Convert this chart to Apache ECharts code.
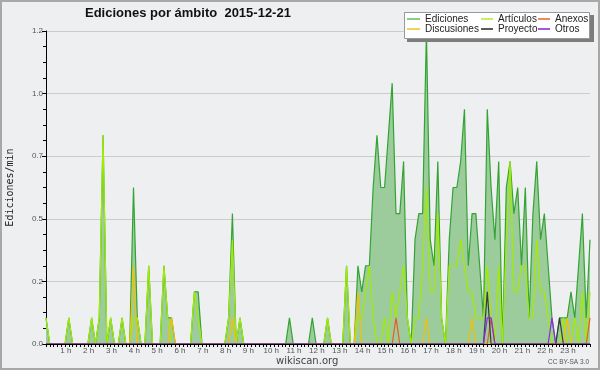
<!DOCTYPE html>
<html><head><meta charset="utf-8">
<script src="https://cdn.jsdelivr.net/npm/echarts@6/dist/echarts.min.js"></script>
<style>html,body{margin:0;padding:0;background:#eeeff1}#c{width:600px;height:370px}</style>
</head><body><div id="c"></div>
<script>
// tick labels for each hour (0 h is not printed)
const hourLabels = ['', '1 h', '2 h', '3 h', '4 h', '5 h', '6 h', '7 h', '8 h', '9 h', '10 h', '11 h',
  '12 h', '13 h', '14 h', '15 h', '16 h', '17 h', '18 h', '19 h', '20 h', '21 h', '22 h', '23 h'];

// edits per minute, one value per 10-minute slot (6 per hour row)
const ediciones = [
  0.1,0,0,0,0,0,
  0.1,0,0,0,0,0,
  0.1,0,0.1,0.8,0,0.1,
  0,0,0.1,0,0,0.6,
  0.1,0,0,0.3,0,0,
  0,0.3,0.1,0.1,0,0,
  0,0,0,0.2,0.2,0,
  0,0,0,0,0,0,
  0.1,0.5,0,0.1,0,0,
  0,0,0,0,0,0,
  0,0,0,0,0.1,0,
  0,0,0,0,0.1,0,
  0,0,0.1,0,0,0,
  0,0.3,0,0,0.3,0.2,
  0.3,0.3,0.6,0.8,0.6,0.6,
  0.8,1.0,0.5,0.5,0.7,0.1,
  0,0.4,0.5,0.5,1.2,0.4,
  0.3,0.7,0.1,0,0.4,0.6,
  0.6,0.7,0.9,0.3,0.5,0.5,
  0.3,0.1,0.9,0.6,0.4,0.7,
  0,0.6,0.7,0.5,0.6,0.3,
  0.6,0.1,0.5,0.7,0.4,0.5,
  0.3,0.1,0,0.1,0.1,0.1,
  0.2,0.1,0.3,0.5,0.1,0.4
];
const articulos = [
  0.1,0,0,0,0,0,
  0.1,0,0,0,0,0,
  0.1,0,0.1,0.8,0,0.1,
  0,0,0.1,0,0,0.1,
  0.1,0,0,0.3,0,0,
  0,0.3,0.1,0,0,0,
  0,0,0,0.2,0.1,0,
  0,0,0,0,0,0,
  0.1,0.4,0,0.1,0,0,
  0,0,0,0,0,0,
  0,0,0,0,0,0,
  0,0,0,0,0,0,
  0,0,0.1,0,0,0,
  0,0.3,0,0,0.1,0.1,
  0.2,0.3,0.1,0,0,0.1,
  0,0.2,0.1,0.2,0.3,0.1,
  0,0.1,0.1,0.3,0.6,0.2,
  0.2,0.5,0.1,0,0.3,0.3,
  0.3,0.4,0.3,0.2,0.2,0.1,
  0.1,0.1,0.3,0.1,0,0.3,
  0,0.4,0.7,0.2,0.2,0.3,
  0.3,0.1,0.1,0.4,0.2,0.2,
  0.1,0,0,0,0.1,0,
  0,0.1,0,0.2,0,0.2
];
const anexos = [
  0,0,0,0,0,0, 0,0,0,0,0,0, 0,0,0,0,0,0, 0,0,0,0,0,0,
  0,0,0,0,0,0, 0,0,0,0,0,0, 0,0,0,0,0,0, 0,0,0,0,0,0,
  0,0,0,0,0,0, 0,0,0,0,0,0, 0,0,0,0,0,0, 0,0,0,0,0,0,
  0,0,0,0,0,0, 0,0,0,0,0,0, 0,0,0,0,0,0, 0,0,0.1,0,0,0,
  0,0,0,0,0,0, 0,0,0,0,0,0, 0,0,0,0,0,0, 0,0,0,0.1,0,0,
  0,0,0,0,0,0, 0,0,0,0,0,0, 0,0,0,0,0,0, 0,0,0,0,0,0.1
];
const discusiones = [
  0,0,0,0,0,0, 0,0,0,0,0,0, 0,0,0,0,0,0, 0,0,0,0,0,0.3,
  0,0,0,0,0,0, 0,0,0,0.1,0,0, 0,0,0,0,0,0, 0,0,0,0,0,0,
  0,0.1,0,0,0,0, 0,0,0,0,0,0, 0,0,0,0,0,0, 0,0,0,0,0,0,
  0,0,0,0,0,0, 0,0,0,0,0.2,0, 0,0,0,0,0,0, 0,0,0,0,0,0,
  0,0,0,0,0.1,0, 0,0,0,0,0,0, 0,0,0,0,0.1,0, 0,0,0,0,0,0,
  0,0,0,0,0,0, 0,0,0,0,0,0, 0,0,0,0,0,0.1, 0,0,0,0,0,0
];
const proyecto = [
  0,0,0,0,0,0, 0,0,0,0,0,0, 0,0,0,0,0,0, 0,0,0,0,0,0,
  0,0,0,0,0,0, 0,0,0,0,0,0, 0,0,0,0,0,0, 0,0,0,0,0,0,
  0,0,0,0,0,0, 0,0,0,0,0,0, 0,0,0,0,0,0, 0,0,0,0,0,0,
  0,0,0,0,0,0, 0,0,0,0,0,0, 0,0,0,0,0,0, 0,0,0,0,0,0,
  0,0,0,0,0,0, 0,0,0,0,0,0, 0,0,0,0,0,0, 0,0,0.2,0,0,0,
  0,0,0,0,0,0, 0,0,0,0,0,0, 0,0,0,0.1,0,0, 0,0,0,0,0,0
];
const otros = [
  0,0,0,0,0,0, 0,0,0,0,0,0, 0,0,0,0,0,0, 0,0,0,0,0,0,
  0,0,0,0,0,0, 0,0,0,0,0,0, 0,0,0,0,0,0, 0,0,0,0,0,0,
  0,0,0,0,0,0, 0,0,0,0,0,0, 0,0,0,0,0,0, 0,0,0,0,0,0,
  0,0,0,0,0,0, 0,0,0,0,0,0, 0,0,0,0,0,0, 0,0,0,0,0,0,
  0,0,0,0,0,0, 0,0,0,0,0,0, 0,0,0,0,0,0, 0,0,0.1,0.1,0,0,
  0,0,0,0,0,0, 0,0,0,0,0,0, 0,0.1,0,0,0,0, 0,0,0,0,0,0
];

const times = [];
for (let h = 0; h < 24; h++) for (let m = 0; m < 60; m += 10)
  times.push((h < 10 ? '0' : '') + h + ':' + (m < 10 ? '0' : '') + m);

const chart = echarts.init(document.getElementById('c'), null, {renderer: 'canvas'});
const legendText = {fontFamily: 'Liberation Sans', fontSize: 10, color: '#222'};
function leg(name, color, left, top, w) {
  return {data: [{name: name, itemStyle: {color: color}}], left: left, top: top, icon: 'rect',
    itemWidth: w, itemHeight: 2, padding: 0, selectedMode: false, textStyle: legendText, z: 10};
}
function line(name, data, lineColor, legColor, z) {
  return {name: name, type: 'line', data: data, symbol: 'none', z: z,
    lineStyle: {color: lineColor, width: 1.2}, itemStyle: {color: legColor}};
}
const edSeries = line('Ediciones', ediciones, '#33a333', '#86cf86', 2);
edSeries.areaStyle = {color: '#9ccb9c', opacity: 1};

chart.setOption({
  animation: false,
  backgroundColor: '#eeeff1',
  title: {text: 'Ediciones por ámbito  2015-12-21', left: 85, top: 7, padding: 0,
    textStyle: {fontFamily: 'Liberation Sans', fontWeight: 'bold', fontSize: 13, color: '#111'}},
  grid: {left: 46, right: 10, top: 31, bottom: 26, containLabel: false, outerBoundsMode: 'none'},
  legend: [
    leg('Ediciones', '#86cf86', 407, 14, 13),
    leg('Artículos', '#c8ef66', 481, 14, 12),
    leg('Anexos', '#f08a5c', 538, 14, 12),
    leg('Discusiones', '#f3d25c', 407, 24, 13),
    leg('Proyecto', '#5a5a5a', 481, 24, 12),
    leg('Otros', '#9a5ae6', 538, 24, 12)
  ],
  xAxis: {
    type: 'category', data: times, boundaryGap: false, z: 10,
    axisLine: {lineStyle: {color: '#000', width: 1}},
    axisTick: {show: true, interval: 0, length: 3, lineStyle: {color: '#000'}},
    axisLabel: {interval: function (i) { return i % 6 === 0 && i > 0; },
      formatter: function (v, i) { return hourLabels[i / 6]; },
      fontFamily: 'Liberation Sans', fontSize: 8, color: '#555', margin: 3, padding: [0, 6, 0, 0]},
    splitLine: {show: false}
  },
  yAxis: {
    type: 'value', min: 0, max: 1.2, interval: 0.24, z: 1,
    name: 'Ediciones/min', nameLocation: 'middle', nameGap: 31,
    nameTextStyle: {fontFamily: 'DejaVu Sans Mono', fontSize: 10, color: '#222'},
    axisLine: {show: true, lineStyle: {color: '#000'}},
    axisTick: {show: true, length: 4, lineStyle: {color: '#000'}},
    minorTick: {show: true, splitNumber: 4, length: 3, lineStyle: {color: '#000'}},
    axisLabel: {formatter: function (v) { return v.toFixed(1); },
      fontFamily: 'Liberation Sans', fontSize: 8, color: '#555', margin: 3},
    splitLine: {lineStyle: {color: '#cccccc'}}
  },
  series: [
    edSeries,
    line('Artículos', articulos, '#a2ec00', '#c8ef66', 3),
    line('Discusiones', discusiones, '#f2c200', '#f3d25c', 4),
    line('Anexos', anexos, '#f05a1e', '#f08a5c', 5),
    line('Proyecto', proyecto, '#3a3a3a', '#5a5a5a', 6),
    line('Otros', otros, '#8a2be2', '#9a5ae6', 7)
  ],
  graphic: [
    {type: 'rect', z: 100, silent: true, shape: {x: 1, y: 1, width: 598, height: 368},
      style: {fill: 'none', stroke: '#a8a8a8', lineWidth: 2}},
    {type: 'rect', z: 8, shape: {x: 407, y: 15, width: 187, height: 27}, style: {fill: '#7c7c7c'}},
    {type: 'rect', z: 9, shape: {x: 404.5, y: 12.5, width: 185, height: 26},
      style: {fill: '#ffffff', stroke: '#999', lineWidth: 1}},
    {type: 'text', z: 9, left: 276, top: 356,
      style: {text: 'wikiscan.org', font: '10px "DejaVu Sans"', fill: '#444'}},
    {type: 'text', z: 9, right: 11, top: 359,
      style: {text: 'CC BY-SA 3.0', font: '6.5px "Liberation Sans"', fill: '#555'}}
  ]
});
</script>
</body></html>
